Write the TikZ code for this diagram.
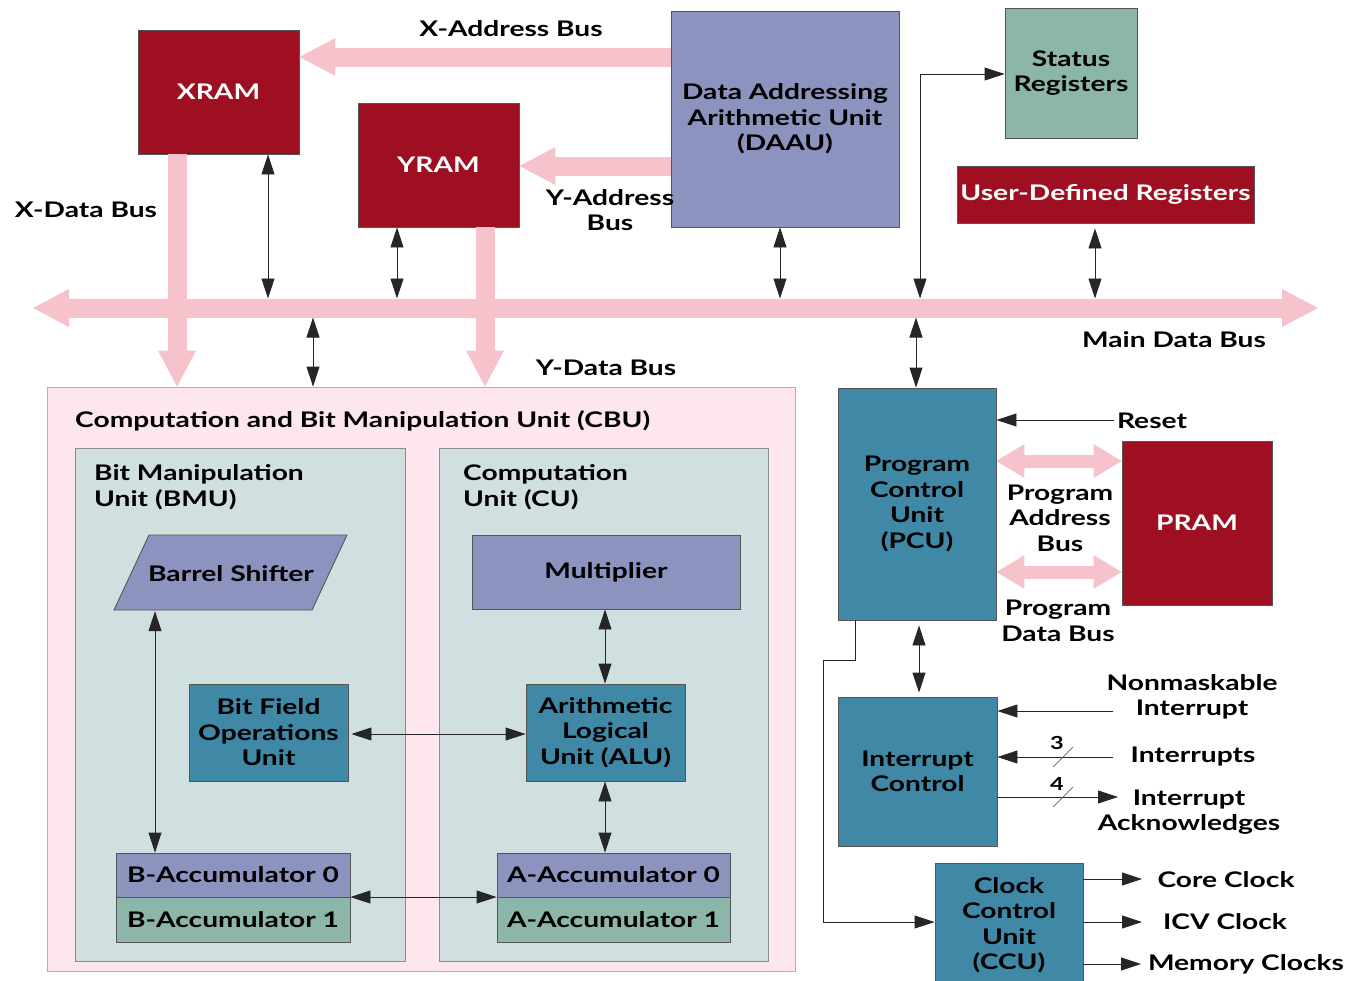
\documentclass[tikz,border=0pt]{standalone}
\usepackage{fontspec}
\setmainfont{Lato}[FakeStretch=1.31]
\usetikzlibrary{arrows.meta}

\definecolor{dkred}{HTML}{9D0F21}
\definecolor{lav}{HTML}{8C93BF}
\definecolor{unitteal}{HTML}{3F89A6}
\definecolor{sage}{HTML}{8CB6A9}
\definecolor{buspink}{HTML}{F6C3CD}
\definecolor{cbupink}{HTML}{FDE6ED}
\definecolor{cbuedge}{HTML}{C9A7B0}
\definecolor{panel}{HTML}{D0DFDF}
\definecolor{edge}{HTML}{555555}

\tikzset{
  blk/.style={draw=edge, line width=0.9pt, inner sep=0pt, align=center},
  redbox/.style={blk, fill=dkred, text=white},
  lavbox/.style={blk, fill=lav},
  tealbox/.style={blk, fill=unitteal},
  sagebox/.style={blk, fill=sage},
  panelbox/.style={blk, fill=panel},
  lbl/.style={inner sep=2pt, align=center},
  wire/.style={line width=0.9pt, draw=black!85,
    >={Triangle[length=20pt,width=13pt]}},
  bus/.style={draw=buspink, line width=19pt,
    >={Triangle[length=36pt,width=38pt,line width=0pt]}},
  pbus/.style={draw=buspink, line width=13pt,
    >={Triangle[length=28pt,width=34pt,line width=0pt]}},
  tick/.style={line width=0.7pt, draw=black!60}
}

\begin{document}
\begin{tikzpicture}[x=1pt,y=-1pt,
  font=\fontsize{21.5}{25.5}\selectfont\bfseries]
\fill[white] (0,0) rectangle (1349,980);
\useasboundingbox (0,0) rectangle (1349,980);

% ---- memories and addressing unit
\node[redbox, minimum width=161pt, minimum height=124pt] (xram) at (218.5,92) {XRAM};
\node[redbox, minimum width=161pt, minimum height=124pt] (yram) at (438.5,165) {YRAM};
\node[lavbox, minimum width=228pt, minimum height=216pt] (daau) at (785,119)
  {Data Addressing\\Arithmetic Unit\\(DAAU)};
\node[sagebox, minimum width=132pt, minimum height=130pt] (status) at (1071,73)
  {Status\\Registers};
\node[redbox, minimum width=297pt, minimum height=57pt] (udr) at (1105.5,194.5)
  {User-Defined Registers};

% ---- main data bus
\coordinate (busL) at (33,308);
\coordinate (busR) at (1318,308);
\coordinate (busT) at (0,298.5);
\coordinate (busB) at (0,317.5);

% ---- computation and bit manipulation unit
\node[blk, draw=cbuedge, fill=cbupink, minimum width=748pt, minimum height=584pt] (cbu) at (421,679) {};
\node[panelbox, draw=black!45, minimum width=330pt, minimum height=513pt] (bmu) at (240,704.5) {};
\node[panelbox, draw=black!45, minimum width=329pt, minimum height=513pt] (cu) at (603.5,704.5) {};
\node[lbl, anchor=west] (cbul) at (73,421) {Computation and Bit Manipulation Unit (CBU)};
\node[lbl, anchor=west, align=left] (bmul) at (92,487) {Bit Manipulation\\Unit (BMU)};
\node[lbl, anchor=west, align=left] (cul) at (461,487) {Computation\\Unit (CU)};

% barrel shifter (parallelogram) with its label node
\fill[lav] (114,610) -- (149,535) -- (347,535) -- (312,610) -- cycle;
\draw[edge, line width=0.9pt] (114,610) -- (149,535) -- (347,535) -- (312,610) -- cycle;
\node[inner sep=0pt, minimum width=198pt, minimum height=75pt] (bs) at (231,573.5) {Barrel Shifter};

\node[lavbox, minimum width=268pt, minimum height=74pt] (mult) at (606,572) {Multiplier};
\node[tealbox, minimum width=159pt, minimum height=97pt] (bf) at (268.5,732.5)
  {Bit Field\\Operations\\Unit};
\node[tealbox, minimum width=159pt, minimum height=97pt] (alu) at (605.5,732.5)
  {Arithmetic\\Logical\\Unit (ALU)};
\node[lavbox, minimum width=234pt, minimum height=44pt] (bacc0) at (233,875) {B-Accumulator 0};
\node[sagebox, minimum width=234pt, minimum height=45pt] (bacc1) at (233,919.5) {B-Accumulator 1};
\node[lavbox, minimum width=233pt, minimum height=44pt] (aacc0) at (613.5,875) {A-Accumulator 0};
\node[sagebox, minimum width=233pt, minimum height=45pt] (aacc1) at (613.5,919.5) {A-Accumulator 1};

% ---- program control side
\node[tealbox, minimum width=158pt, minimum height=232pt] (pcu) at (917,504)
  {Program\\Control\\Unit\\(PCU)};
\node[redbox, minimum width=150pt, minimum height=164pt] (pram) at (1197,523) {PRAM};
\node[tealbox, minimum width=159pt, minimum height=149pt] (intc) at (917.5,771.5)
  {Interrupt\\Control};
\node[tealbox, minimum width=148pt, minimum height=124pt] (ccu) at (1009,925)
  {Clock\\Control\\Unit\\(CCU)};

% ---- wide buses
\draw[bus,<->] (busL) -- (busR);
\draw[bus,->] (daau.west |- 0,57) -- (xram.east |- 0,57);
\draw[bus,->] (daau.west |- 0,166) -- (yram.east |- 0,166);
\draw[bus,->] (xram.south -| 177,0) -- (cbu.north -| 177,0);
\draw[bus,->] (yram.south -| 485,0) -- (cbu.north -| 485,0);
\draw[pbus,<->] (pcu.east |- 0,461) -- (pram.west |- 0,461);
\draw[pbus,<->] (pcu.east |- 0,572) -- (pram.west |- 0,572);

% ---- bus labels
\node[lbl] (xal) at (511,29) {X-Address Bus};
\node[lbl] (yal) at (610,210) {Y-Address\\Bus};
\node[lbl] (xdl) at (86,210) {X-Data Bus};
\node[lbl] (ydl) at (606,368) {Y-Data Bus};
\node[lbl] (mdl) at (1174,340) {Main Data Bus};
\node[lbl] (pabl) at (1060,518) {Program\\Address\\Bus};
\node[lbl] (pdbl) at (1058,621) {Program\\Data Bus};

% ---- links to the main data bus
\draw[wire,<->] (xram.south -| 268,0) -- (268,0 |- busT);
\draw[wire,<->] (yram.south -| 397,0) -- (397,0 |- busT);
\draw[wire,<->] (daau.south -| 780,0) -- (780,0 |- busT);
\draw[wire,<->,shorten <=5pt] (udr.south -| 1095,0) -- (1095,0 |- busT);
\draw[wire,<->] (920,0 |- busT) |- (status.west |- 0,74);
\draw[wire,<->] (313,0 |- busB) -- (cbu.north -| 313,0);
\draw[wire,<->] (916,0 |- busB) -- (pcu.north -| 916,0);

% ---- links inside the CBU
\draw[wire,<->] (bs.south -| 155,0) -- (bacc0.north -| 155,0);
\draw[wire,<->] (mult.south -| 605,0) -- (alu.north -| 605,0);
\draw[wire,<->] (alu.south -| 605,0) -- (aacc0.north -| 605,0);
\draw[wire,<->,shorten <=3pt] (bf.east |- 0,734) -- (alu.west |- 0,734);
\draw[wire,<->] (bacc0.east |- 0,897) -- (aacc0.west |- 0,897);

% ---- control signals
\node[lbl] (resl) at (1152,421) {Reset};
\coordinate (resS) at (1114,420);
\draw[wire,->] (resS) -- (pcu.east |- resS);

\draw[wire,<->,shorten <=5pt,shorten >=4pt] (pcu.south -| 919,0) -- (intc.north -| 919,0);

\node[lbl] (nmil) at (1192,697) {Nonmaskable\\Interrupt};
\node[lbl] (intl) at (1193,757) {Interrupts};
\node[lbl] (ackl) at (1189,812) {Interrupt\\Acknowledges};
\coordinate (nmiS) at (1113,711);
\coordinate (intS) at (1113,757);
\coordinate (ackE) at (1118,797);
\draw[wire,->] (nmiS) -- (intc.east |- nmiS);
\draw[wire,->] (intS) -- (intc.east |- intS);
\draw[wire,->] (intc.east |- ackE) -- (ackE);
\draw[tick] (1053,767) -- (1073,747);
\draw[tick] (1053,807) -- (1073,787);
\node[lbl, font=\fontsize{18}{20}\selectfont\bfseries] (n3) at (1057,743) {3};
\node[lbl, font=\fontsize{18}{20}\selectfont\bfseries] (n4) at (1057,784) {4};

% ---- clock control
\draw[wire,->] (pcu.south -| 855,0) |- (823,660) |- (ccu.west |- 0,922);
\node[lbl] (ccl) at (1226,880) {Core Clock};
\node[lbl] (icvl) at (1225,922) {ICV Clock};
\node[lbl] (mcl) at (1246,964) {Memory Clocks};
\coordinate (ccE) at (1142,879);
\coordinate (icvE) at (1142,922);
\coordinate (mcE) at (1141,964);
\draw[wire,->] (ccu.east |- ccE) -- (ccE);
\draw[wire,->] (ccu.east |- icvE) -- (icvE);
\draw[wire,->] (ccu.east |- mcE) -- (mcE);
\end{tikzpicture}
\end{document}
